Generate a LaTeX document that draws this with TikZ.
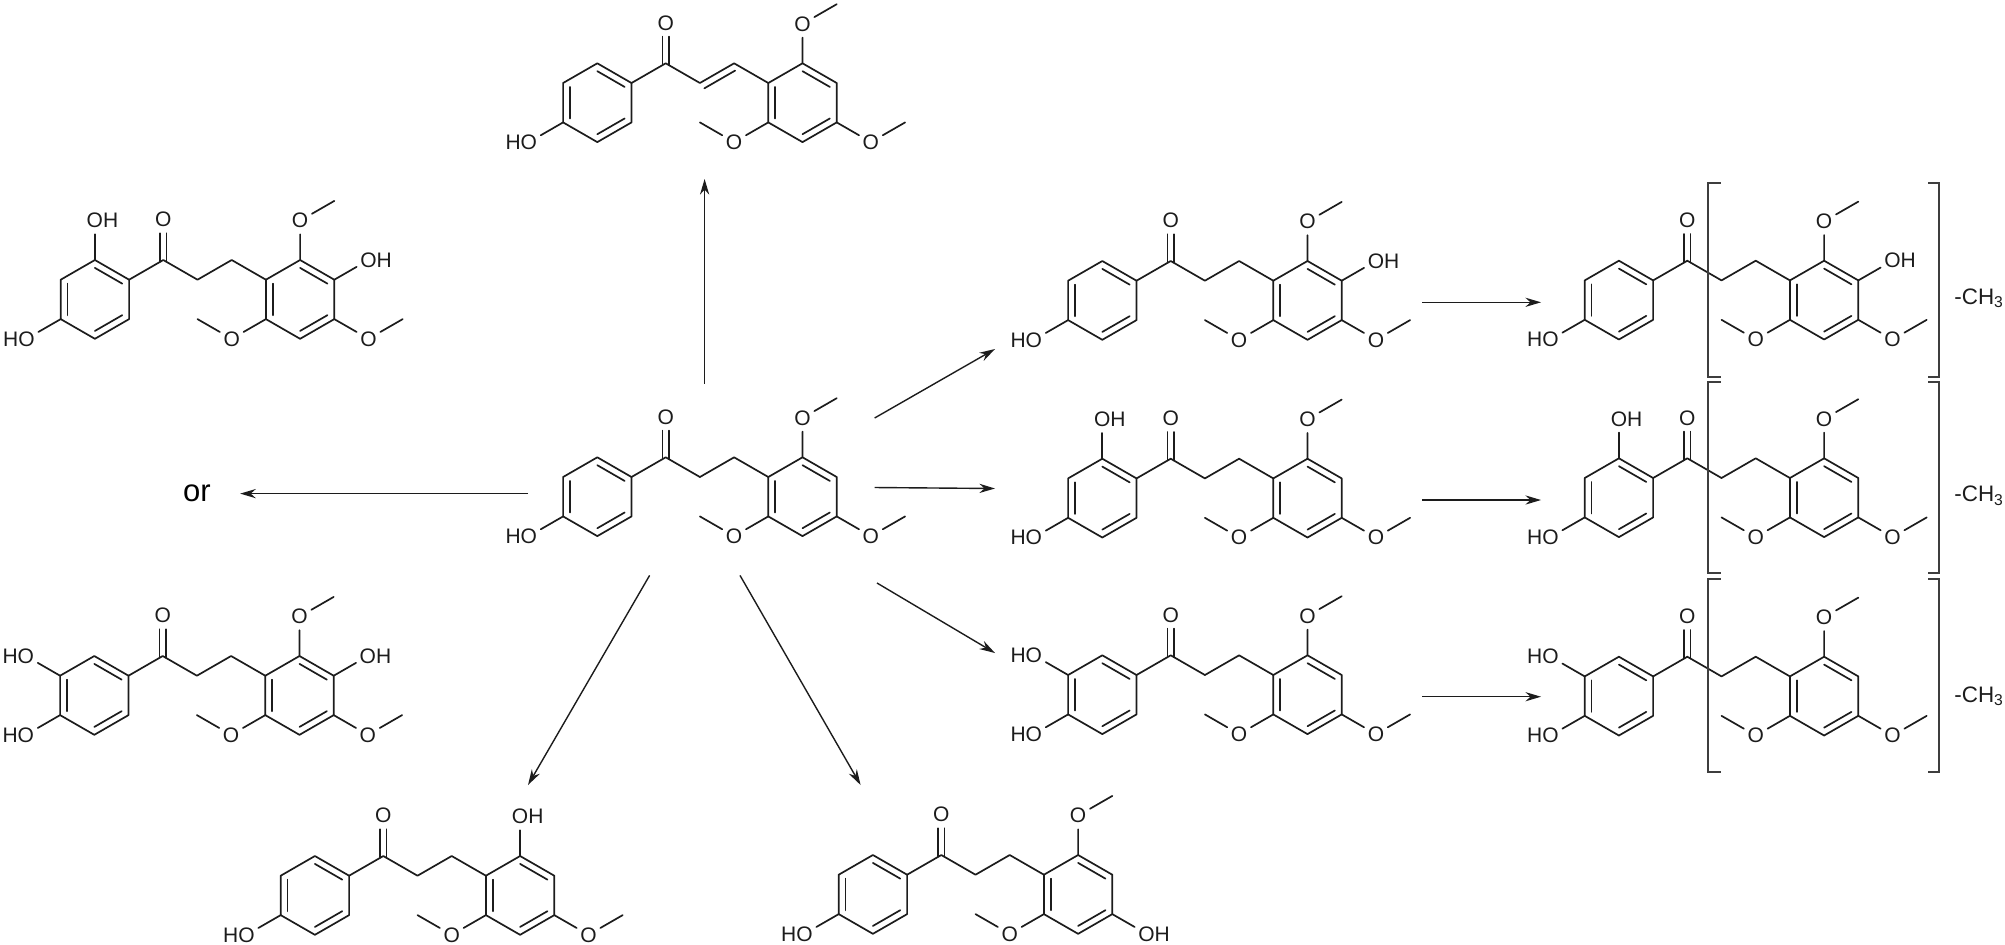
\documentclass[tikz,border=0pt]{standalone}
\usepackage{fontspec}
\setmainfont{Liberation Sans}
\usetikzlibrary{arrows.meta,calc}
\definecolor{inkline}{HTML}{1C1C1C}
\tikzset{
  bond/.style={draw=inkline,line width=0.85pt,line cap=round,line join=round},
  atom/.style={circle,inner sep=0.8pt,text=inkline,font=\fontsize{10.5}{12}\selectfont},
  reaction/.style={draw=inkline,line width=0.7pt,-{Stealth[length=7.8pt,width=4.6pt]}},
  bracket/.style={draw=inkline!85,line width=0.85pt},
  endgroup/.style={inner sep=0pt,anchor=west,text=inkline,font=\fontsize{11.2}{13}\selectfont},
  orlabel/.style={inner sep=0pt,text=black,font=\fontsize{15.5}{18}\selectfont}
}
% -O-CH3 on a ring atom: name, ring atom, O, end of the methyl
\newcommand{\methoxy}[4]{
  \node[atom] (#1o) at (#3) {O};
  \coordinate (#1m) at (#4);
  \draw[bond] (#2) -- (#1o) -- (#1m);
}
% -OH with the H on the right
\newcommand{\hydroxy}[3]{
  \node[atom] (#1o) at (#3) {O\rlap{H}};
  \draw[bond] (#2) -- (#1o);
}
% HO- with the H on the left
\newcommand{\hydroxyleft}[3]{
  \node[atom] (#1o) at (#3) {\llap{H}O};
  \draw[bond] (#2) -- (#1o);
}
% common skeleton: name, carbonyl carbon, extra groups
\newcommand{\molecule}[3]{
  \begin{scope}[shift={(#2)},x=17.1pt,y=9.85pt]
    \coordinate (#1co) at (0,0);
    \coordinate (#1c1) at (1,-1);
    \coordinate (#1c2) at (2,0);
    % ring A
    \coordinate (#1ca) at (-2,-2);
    \coordinate (#1a1) at (-1,-1);
    \coordinate (#1a2) at (-2,0);
    \coordinate (#1a3) at (-3,-1);
    \coordinate (#1a4) at (-3,-3);
    \coordinate (#1a5) at (-2,-4);
    \coordinate (#1a6) at (-1,-3);
    \draw[bond] (#1a1) -- (#1a2) -- (#1a3) -- (#1a4) -- (#1a5) -- (#1a6) -- cycle;
    \foreach \p/\q in {a1/a2,a3/a4,a5/a6}
      \draw[bond] ($(#1ca)!.8!(#1\p)$) -- ($(#1ca)!.8!(#1\q)$);
    % ring B
    \coordinate (#1cb) at (4,-2);
    \coordinate (#1b1) at (3,-1);
    \coordinate (#1b2) at (4,0);
    \coordinate (#1b3) at (5,-1);
    \coordinate (#1b4) at (5,-3);
    \coordinate (#1b5) at (4,-4);
    \coordinate (#1b6) at (3,-3);
    \draw[bond] (#1b1) -- (#1b2) -- (#1b3) -- (#1b4) -- (#1b5) -- (#1b6) -- cycle;
    \foreach \p/\q in {b1/b6,b2/b3,b4/b5}
      \draw[bond] ($(#1cb)!.8!(#1\p)$) -- ($(#1cb)!.8!(#1\q)$);
    % chain and C=O
    \draw[bond] (#1a1) -- (#1co) -- (#1c1) -- (#1c2) -- (#1b1);
    \node[atom] (#1k) at (0,2.05) {O};
    \draw[bond] ([xshift=-1.6pt,yshift=-0.9pt]#1co) -- ([xshift=-1.6pt]#1k.south);
    \draw[bond] ([xshift=1.6pt,yshift=-0.9pt]#1co) -- ([xshift=1.6pt]#1k.south);
    % groups every molecule has
    \hydroxyleft{#1p}{#1a4}{-4,-4}
    \methoxy{#1l}{#1b6}{2,-4}{1,-3}
    #3
  \end{scope}
}
\begin{document}
\begin{tikzpicture}[x=0.5pt,y=-0.5pt]
    \useasboundingbox (0,0) rectangle (2005,944);

    % centre
    \molecule{cen}{665.7,457.3}{
      \methoxy{cent}{cenb2}{4,2}{5,3}
      \methoxy{cenr}{cenb4}{6,-4}{7,-3}
    }

    % top, with C=C
    \molecule{top}{665.7,63.3}{
      \methoxy{topt}{topb2}{4,2}{5,3}
      \methoxy{topr}{topb4}{6,-4}{7,-3}
      \coordinate (topd1) at (1.13,-1.27);
      \coordinate (topd2) at (2.03,-0.37);
      \draw[bond] (topd1) -- (topd2);
    }

    % left, two products
    \molecule{lfa}{163.3,260}{
      \hydroxy{lfah}{lfaa2}{-2,2}
      \hydroxy{lfas}{lfab3}{6,0}
      \methoxy{lfat}{lfab2}{4,2}{5,3}
      \methoxy{lfar}{lfab4}{6,-4}{7,-3}
    }
    \molecule{lfb}{162.7,656}{
      \hydroxyleft{lfbh}{lfba3}{-4,0}
      \hydroxy{lfbs}{lfbb3}{6,0}
      \methoxy{lfbt}{lfbb2}{4,2}{5,3}
      \methoxy{lfbr}{lfbb4}{6,-4}{7,-3}
    }

    % bottom
    \molecule{bta}{383.3,856}{
      \hydroxy{btat}{btab2}{4,2}
      \methoxy{btar}{btab4}{6,-4}{7,-3}
    }
    \molecule{btb}{941.3,855}{
      \methoxy{btbt}{btbb2}{4,2}{5,3}
      \hydroxy{btbr}{btbb4}{6,-4}
    }

    % middle column
    \molecule{mda}{1170.7,261}{
      \hydroxy{mdas}{mdab3}{6,0}
      \methoxy{mdat}{mdab2}{4,2}{5,3}
      \methoxy{mdar}{mdab4}{6,-4}{7,-3}
    }
    \molecule{mdb}{1170.7,458.7}{
      \hydroxy{mdbh}{mdba2}{-2,2}
      \methoxy{mdbt}{mdbb2}{4,2}{5,3}
      \methoxy{mdbr}{mdbb4}{6,-4}{7,-3}
    }
    \molecule{mdc}{1170.7,655.3}{
      \hydroxyleft{mdch}{mdca3}{-4,0}
      \methoxy{mdct}{mdcb2}{4,2}{5,3}
      \methoxy{mdcr}{mdcb4}{6,-4}{7,-3}
    }

    % right column
    \molecule{rta}{1687.3,260.7}{
      \hydroxy{rtas}{rtab3}{6,0}
      \methoxy{rtat}{rtab2}{4,2}{5,3}
      \methoxy{rtar}{rtab4}{6,-4}{7,-3}
    }
    \molecule{rtb}{1687.3,458.3}{
      \hydroxy{rtbh}{rtba2}{-2,2}
      \methoxy{rtbt}{rtbb2}{4,2}{5,3}
      \methoxy{rtbr}{rtbb4}{6,-4}{7,-3}
    }
    \molecule{rtc}{1687.3,656.7}{
      \hydroxyleft{rtch}{rtca3}{-4,0}
      \methoxy{rtct}{rtcb2}{4,2}{5,3}
      \methoxy{rtcr}{rtcb4}{6,-4}{7,-3}
    }

    % brackets
    \foreach \t/\b in {183.3/376.7,381.7/573.3,579.3/771.7} {
      \draw[bracket] (1720.7,\t) -- (1708.3,\t) -- (1708.3,\b) -- (1720.7,\b);
      \draw[bracket] (1928.3,\t) -- (1939.3,\t) -- (1939.3,\b) -- (1928.3,\b);
    }
    \node[endgroup] (enda) at (1954,298.3) {-CH\textsubscript{3}};
    \node[endgroup] (endb) at (1954,495.7) {-CH\textsubscript{3}};
    \node[endgroup] (endc) at (1954,696) {-CH\textsubscript{3}};

    % or
    \node[orlabel] (or) at (197,493.6) {or};

    % arrow ends
    \coordinate (upa) at (704.6,383.6);
    \coordinate (upb) at (704.6,179);
    \coordinate (lfc) at (528,493.6);
    \coordinate (dla) at (649.6,575.4);
    \coordinate (dlb) at (528,785);
    \coordinate (dra) at (740,575.4);
    \coordinate (drb) at (860.6,785);
    \coordinate (ria) at (874.6,418);
    \coordinate (rib) at (995,349);
    \coordinate (rja) at (874.6,487.5);
    \coordinate (rjb) at (995,488.5);
    \coordinate (rka) at (877,583);
    \coordinate (rkb) at (995,653);
    \coordinate (saa) at (1422,302.3);
    \coordinate (sab) at (1541,302.3);
    \coordinate (sba) at (1422,500);
    \coordinate (sbb) at (1541,500);
    \coordinate (sca) at (1422,696.7);
    \coordinate (scb) at (1541,696.7);

    % arrows
    \draw[reaction] (upa) -- (upb);
    \draw[reaction,shorten >=14.5pt] (lfc) -- (or);
    \draw[reaction] (dla) -- (dlb);
    \draw[reaction] (dra) -- (drb);
    \draw[reaction] (ria) -- (rib);
    \draw[reaction] (rja) -- (rjb);
    \draw[reaction] (rka) -- (rkb);
    \draw[reaction] (saa) -- (sab);
    \draw[reaction] (sba) -- (sbb);
    \draw[reaction] (sca) -- (scb);
\end{tikzpicture}
\end{document}
